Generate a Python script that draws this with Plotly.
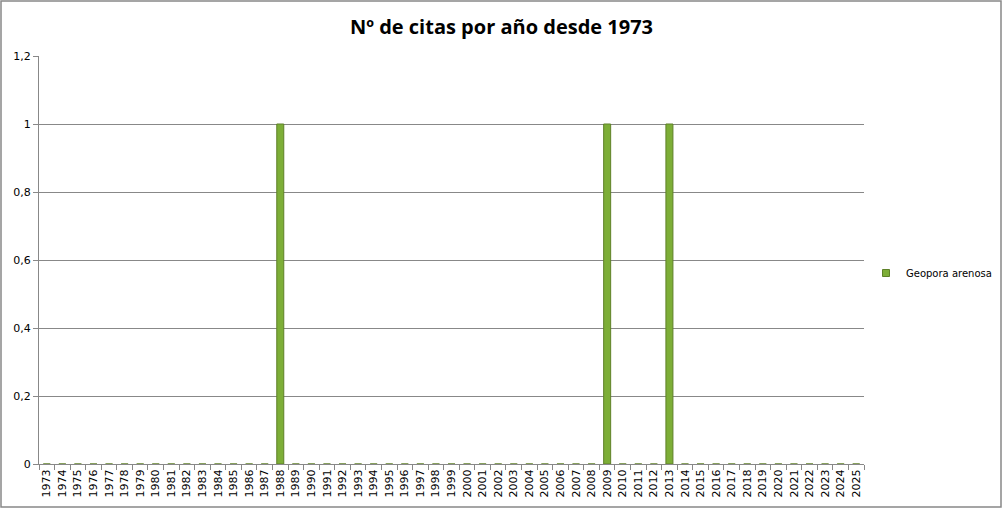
import plotly.graph_objects as go

years = [str(y) for y in range(1973, 2026)]
citas = {"1988": 1, "2009": 1, "2013": 1}
values = [citas.get(y, 0) for y in years]
series_name = "Geopora arenosa"
y_tickvals = [0, 0.2, 0.4, 0.6, 0.8, 1, 1.2]
y_ticktext = ["0", "0,2", "0,4", "0,6", "0,8", "1", "1,2"]

L, R, T, B = 39, 864, 56, 464
W, H = 1003, 509
pw, ph = R - L, B - T

fig = go.Figure()
fig.add_trace(go.Bar(
    x=years, y=values, name=series_name, width=0.45,
    marker=dict(color="#7DAE37", line=dict(color="#5E8128", width=1)),
    showlegend=False,
))
# legend entry with a small square swatch
fig.add_trace(go.Scatter(
    x=[years[0]], y=[None], name=series_name, mode="markers",
    marker=dict(symbol="square", size=7, color="#7DAE37", line=dict(color="#5E8128", width=1)),
    showlegend=True, hoverinfo="skip",
))

def px_x(p):
    return (p - L) / pw

def px_y(p):
    return (B - p) / ph

fig.update_layout(
    width=W, height=H,
    margin=dict(l=L, r=W - R, t=T, b=H - B, autoexpand=False),
    paper_bgcolor="white", plot_bgcolor="white",
    title=dict(text="<b>Nº de citas por año desde 1973</b>", x=0.5, xanchor="center",
               y=1 - 27 / H, yanchor="middle",
               font=dict(family="Open Sans, Liberation Sans, sans-serif", size=20, color="black")),
    xaxis=dict(type="category", tickangle=-90, tickson="boundaries", ticks="outside", ticklen=5,
               tickcolor="#888888", showline=True, linecolor="#888888", linewidth=1,
               showgrid=False, automargin=False,
               tickfont=dict(family="DejaVu Sans, Verdana, sans-serif", size=11, color="black"),
               range=[-0.5, len(years) - 0.5]),
    yaxis=dict(range=[0, 1.2], tickvals=y_tickvals, ticktext=y_ticktext, ticks="outside", ticklen=5,
               tickcolor="#888888", showline=True, linecolor="#888888", linewidth=1,
               showgrid=True, gridcolor="#888888", gridwidth=1, zeroline=False, automargin=False,
               tickfont=dict(family="DejaVu Sans, Verdana, sans-serif", size=11, color="black")),
    legend=dict(x=px_x(866), y=px_y(273), xanchor="left", yanchor="middle",
                font=dict(family="DejaVu Sans, Verdana, sans-serif", size=10, color="black"),
                bgcolor="rgba(0,0,0,0)", itemwidth=30),
    shapes=[dict(type="rect", xref="paper", yref="paper",
                 x0=px_x(1), x1=px_x(1001), y0=px_y(507), y1=px_y(1),
                 line=dict(color="#888888", width=1.5), fillcolor="rgba(0,0,0,0)", layer="below")],
)

fig.write_html("out.html", config={"displayModeBar": False},
               post_script="document.body.style.margin='0';document.body.style.overflow='hidden';")
